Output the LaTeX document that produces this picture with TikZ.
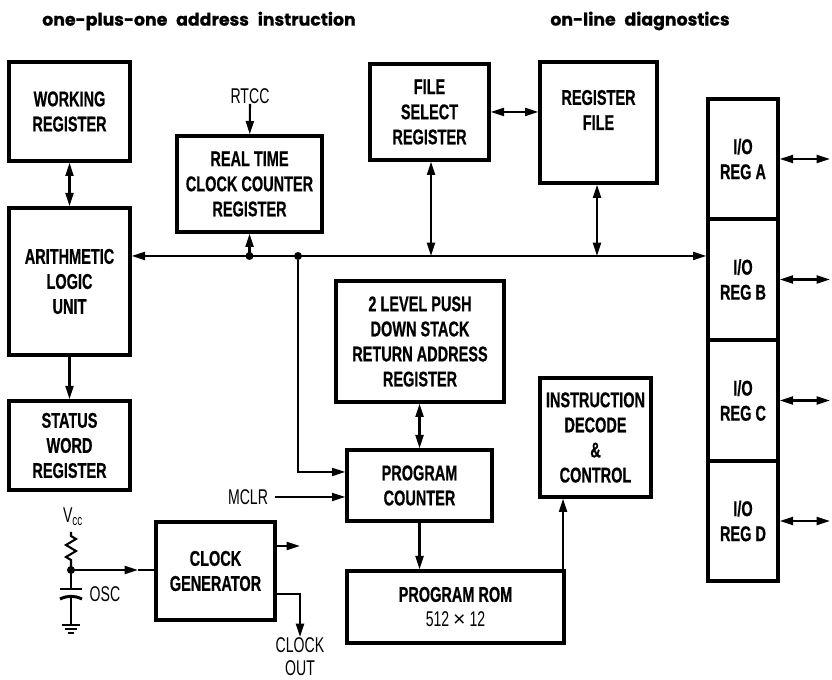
\documentclass[tikz,border=0pt]{standalone}
\usepackage{fontspec}
\setmainfont{Liberation Sans}
\newfontfamily\blockfont[FakeStretch=0.68,FakeBold=0.6]{Liberation Sans Bold}
\newfontfamily\labelfont[FakeStretch=0.66]{Liberation Sans}
\newfontfamily\timesfont{Liberation Sans}
\newfontfamily\headfont[FakeBold=0.8,WordSpace=2.4]{Poppins Bold}
\usepackage{tikz}
\usetikzlibrary{
  arrows.meta,
  calc
}
\tikzset{
  >={Triangle[length=10pt,width=6pt]},
  wire/.style={line width=1.6pt},
  flowarrow/.style={wire,->},
  bothways/.style={wire,<->},
  block/.style={rectangle,draw,line width=2.5pt,align=center,inner sep=0pt,
    font=\blockfont\fontsize{16}{18.8}\selectfont},
  sized/.style 2 args={minimum width=#1*0.75pt,minimum height=#2*0.75pt},
  sig/.style={inner sep=0pt,align=center,font=\labelfont\fontsize{16}{17.2}\selectfont},
  headline/.style={inner sep=0pt,font=\headfont\fontsize{13}{15}\selectfont},
  joint/.style={circle,fill,inner sep=0pt,minimum size=6pt}
}
\begin{document}
\begin{tikzpicture}[x=0.75pt,y=-0.75pt]
    \useasboundingbox (0,0) rectangle (832,680);

    % headings
    \node[headline] (headleft) at (199,21) {one-plus-one address instruction};
    \node[headline] (headright) at (640,21) {on-line diagnostics};

    % blocks
    \node[block,sized={121}{99}] (working) at (69.5,111.5) {WORKING\\REGISTER};
    \node[block,sized={121}{147}] (alu) at (69.5,281.5) {ARITHMETIC\\LOGIC\\UNIT};
    \node[block,sized={121}{89}] (status) at (69.5,445.5) {STATUS\\WORD\\REGISTER};
    \node[block,sized={145}{96}] (rtcc) at (249.5,184) {REAL TIME\\CLOCK COUNTER\\REGISTER};
    \node[block,sized={119}{96}] (fsr) at (429.5,112) {FILE\\SELECT\\REGISTER};
    \node[block,sized={117}{121}] (regfile) at (598.5,122.5) {REGISTER\\FILE\\\mbox{}};
    \node[block,sized={168}{121}] (stack) at (420,341.5) {2 LEVEL PUSH\\DOWN STACK\\RETURN ADDRESS\\REGISTER};
    \node[block,sized={145}{71}] (counter) at (419.5,485.5) {PROGRAM\\COUNTER};
    \node[block,sized={111}{119}] (decode) at (595.5,437.5) {INSTRUCTION\\DECODE\\\&\\CONTROL};
    \node[block,sized={217}{72}] (rom) at (455.5,607) {PROGRAM ROM\\{\labelfont 512 {\timesfont ×} 12}};
    \node[block,sized={119}{98}] (clockgen) at (215.5,571) {CLOCK\\GENERATOR};
    \node[block,sized={70}{120}] (ioa) at (743,159) {I/O\\REG A};
    \node[block,sized={70}{121}] (iob) at (743,279.5) {I/O\\REG B};
    \node[block,sized={70}{121}] (ioc) at (743,400.5) {I/O\\REG C};
    \node[block,sized={70}{120}] (iod) at (743,521) {I/O\\REG D};

    % signal names
    \node[sig] (rtccin) at (250,96) {RTCC};
    \node[sig] (mclr) at (248,497) {MCLR};
    \node[sig] (osc) at (105,594) {OSC};
    \node[sig] (vcc) at (73,517) {V\textsubscript{cc}};
    \node[sig] (clockout) at (300,657) {CLOCK\\OUT};

    % bus
    \coordinate (busrtcc) at (rtcc.south |- 0,256);
    \coordinate (buspc) at (298,256);
    \node[joint] (jointrtcc) at (busrtcc) {};
    \node[joint] (jointpc) at (buspc) {};
    \draw[wire,<->] (alu.east |- busrtcc) -- (iob.west |- busrtcc);
    \draw[flowarrow] (busrtcc) -- (rtcc.south);
    \draw[flowarrow] (jointpc) |- (counter.west |- 0,472);
    \draw[bothways] (fsr.south -| 431,0) -- (431,256);
    \draw[bothways] (regfile.south -| 597,0) -- (597,256);

    % block to block
    \draw[bothways] (working) -- (alu);
    \draw[flowarrow] (alu) -- (status);
    \draw[flowarrow] (rtccin) -- (rtcc);
    \draw[bothways] (fsr.east |- 0,112) -- (regfile.west |- 0,112);
    \draw[bothways] (stack.south -| counter) -- (counter);
    \draw[flowarrow] (counter) -- (counter |- rom.north);
    \draw[flowarrow] (rom.north -| 563,0) -- (decode.south -| 563,0);
    \draw[flowarrow] (mclr.east -| 275,0) -- (counter.west |- mclr.east);

    % i/o ports
    \foreach \port/\portend in {ioa/a,iob/b,ioc/c,iod/d}{
      \coordinate (out\portend) at (\port.east -| 830,0);
      \draw[bothways] (\port.east) -- (out\portend);
    }

    % clock outputs
    \coordinate (clocktwo) at (300,546);
    \coordinate (clockdown) at (300,637);
    \draw[flowarrow] (clockgen.east |- clocktwo) -- (clocktwo);
    \draw[flowarrow] (clockgen.east |- 0,594) -| (clockdown);

    % oscillator
    \coordinate (vcctop) at (71,532);
    \coordinate (oscjoint) at (71,570);
    \coordinate (oscmid) at (138,570);
    \coordinate (plate) at (71,589);
    \coordinate (plateb) at (71,597);
    \coordinate (earth) at (71,625);
    \draw[wire] (vcctop) -- ++(0,4) -- ++(5,3) -- ++(-10,6) -- ++(10,6) -- ++(-10,6) -- ++(5,3) -- (oscjoint);
    \node[joint] (jointosc) at (oscjoint) {};
    \draw[flowarrow] (oscjoint) -- (oscmid);
    \draw[wire] (oscmid) -- (clockgen.west |- oscmid);
    \draw[wire] (oscjoint) -- (plate);
    \draw[line width=2.2pt] ($(plate)+(-11,0)$) -- ($(plate)+(11,0)$);
    \draw[line width=2.2pt] ($(plateb)+(-11,2)$) to[bend left=25] ($(plateb)+(11,2)$);
    \draw[wire] (plateb) -- (earth);
    \draw[wire] ($(earth)+(-9,0)$) -- ($(earth)+(9,0)$);
    \draw[wire] ($(earth)+(-6,4)$) -- ($(earth)+(6,4)$);
    \draw[wire] ($(earth)+(-3,8)$) -- ($(earth)+(3,8)$);
\end{tikzpicture}
\end{document}
